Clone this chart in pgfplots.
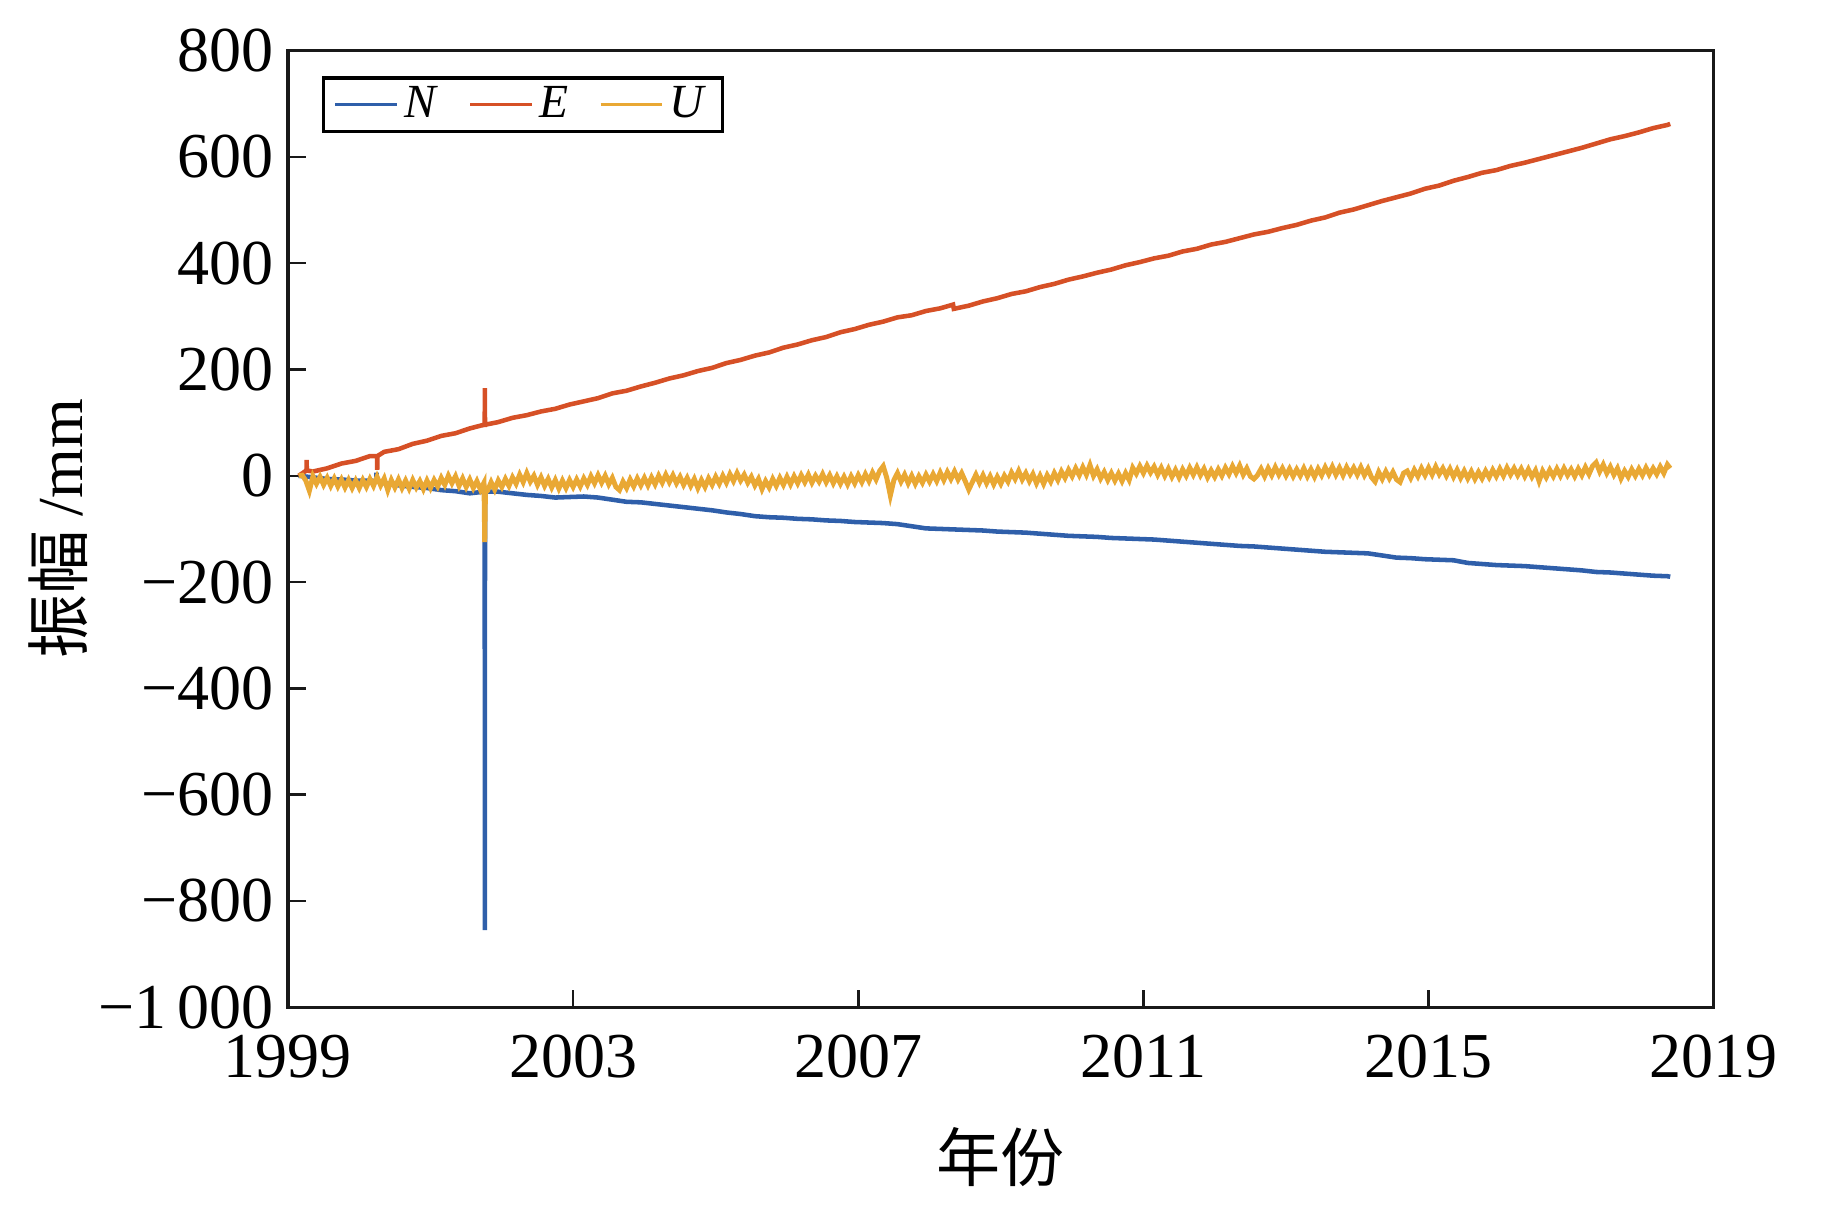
\documentclass[border=0pt]{standalone}
\usepackage{fontspec}
\setmainfont{Liberation Serif}
\newfontfamily\cjk{Noto Sans CJK SC}
\usepackage{pgfplots}
\pgfplotsset{compat=1.18}
\definecolor{cN}{RGB}{47,95,170}
\definecolor{cE}{RGB}{214,80,38}
\definecolor{cU}{RGB}{233,168,52}
\begin{document}
\begin{tikzpicture}
\begin{axis}[name=ax,
  scale only axis, width=121.3mm, height=81.4mm,
  xmin=1999, xmax=2019, ymin=-1000, ymax=800,
  axis line style={line width=0.8pt, black!90},
  xtick={1999,2003,2007,2011,2015,2019},
  xticklabels={1999,2003,2007,2011,2015,2019},
  ytick={-1000,-800,-600,-400,-200,0,200,400,600,800},
  yticklabels={−1\,000,−800,−600,−400,−200,0,200,400,600,800},
  tick align=inside, xtick pos=bottom, ytick pos=left,
  major tick length=1.5mm,
  every tick/.style={black!90, line width=0.6pt},
  tick label style={font=\fontsize{15.5}{18}\selectfont},
  xticklabel style={yshift=-1.1mm},
  xlabel={\cjk 年份}, ylabel={\cjk 振幅\ \rmfamily/mm},
  label style={font=\fontsize{15.5}{18}\selectfont},
  xlabel style={at={(axis description cs:0.5,-0.157)}, anchor=center},
  ylabel style={at={(axis description cs:-0.1608,0.5)}, anchor=center},
  legend columns=3,
  legend style={at={(axis description cs:0.0239,0.973)}, anchor=north west,
    draw=black, line width=0.8pt, font=\fontsize{11.5}{13}\selectfont,
    inner xsep=2.5pt, inner ysep=0.5pt, nodes={inner sep=1.5pt},
    /tikz/every even column/.append style={column sep=2.1mm}},
  legend image code/.code={\draw[#1, line width=0.7pt] (0mm,0mm) -- (5.2mm,0mm);},
]
% N
\addplot[cN, line width=1.1pt] coordinates {
(1999.15,0)(1999.35,-3)(1999.55,-6)(1999.75,-7)(1999.95,-9)(2000.15,-9)
(2000.24,-10)(2000.242,6)(2000.244,-10)
(2000.35,-14)(2000.55,-18)(2000.75,-21)(2000.95,-23)(2001.15,-27)(2001.35,-29)(2001.55,-33)(2001.75,-30)
(2001.76,-30)(2001.762,-855)(2001.764,-30)
(2001.95,-30)(2002.15,-33)(2002.35,-36)(2002.55,-38)(2002.75,-41)(2002.95,-40)(2003.15,-39)(2003.35,-41)
(2003.55,-45)(2003.75,-49)(2003.95,-50)(2004.15,-53)(2004.35,-56)(2004.55,-59)(2004.75,-62)(2004.95,-65)
(2005.15,-69)(2005.35,-72)(2005.55,-76)(2005.75,-78)(2005.95,-79)(2006.15,-81)(2006.35,-82)(2006.55,-84)
(2006.75,-85)(2006.95,-87)(2007.15,-88)(2007.35,-89)(2007.55,-91)(2007.75,-95)(2007.95,-99)(2008.15,-100)
(2008.35,-101)(2008.55,-102)(2008.75,-103)(2008.95,-105)(2009.15,-106)(2009.35,-107)(2009.55,-109)(2009.75,-111)
(2009.95,-113)(2010.15,-114)(2010.35,-115)(2010.55,-117)(2010.75,-118)(2010.95,-119)(2011.15,-120)(2011.35,-122)
(2011.55,-124)(2011.75,-126)(2011.95,-128)(2012.15,-130)(2012.35,-132)(2012.55,-133)(2012.75,-135)(2012.95,-137)
(2013.15,-139)(2013.35,-141)(2013.55,-143)(2013.75,-144)(2013.95,-145)(2014.15,-146)(2014.35,-150)(2014.55,-154)
(2014.75,-155)(2014.95,-157)(2015.15,-158)(2015.35,-159)(2015.55,-164)(2015.75,-166)(2015.95,-168)(2016.15,-169)
(2016.35,-170)(2016.55,-172)(2016.75,-174)(2016.95,-176)(2017.15,-178)(2017.35,-181)(2017.55,-182)(2017.75,-184)
(2017.95,-186)(2018.15,-188)(2018.35,-189)(2018.39,-190)
};
\addlegendentry{\textit{N}}
% E
\addplot[cE, line width=1.1pt] coordinates {
(1999.15,0)(1999.26,10)(1999.262,30)(1999.264,10)(1999.35,8)(1999.55,14)(1999.75,23)(1999.95,28)(2000.15,37)
(2000.25,37)(2000.252,11)(2000.254,37)
(2000.35,45)(2000.55,50)(2000.75,60)(2000.95,66)(2001.15,75)(2001.35,80)(2001.55,89)(2001.75,96)
(2001.76,96)(2001.762,165)(2001.764,96)
(2001.95,101)(2002.15,109)(2002.35,114)(2002.55,121)(2002.75,126)(2002.95,134)(2003.15,140)(2003.35,146)
(2003.55,155)(2003.75,160)(2003.95,168)(2004.15,175)(2004.35,183)(2004.55,189)(2004.75,197)(2004.95,203)
(2005.15,212)(2005.35,218)(2005.55,226)(2005.75,232)(2005.95,241)(2006.15,247)(2006.35,255)(2006.55,261)
(2006.75,270)(2006.95,276)(2007.15,284)(2007.35,290)(2007.55,298)(2007.75,302)(2007.95,310)(2008.15,315)
(2008.33,322)(2008.34,314)(2008.55,320)(2008.75,328)(2008.95,334)(2009.15,342)(2009.35,347)(2009.55,355)
(2009.75,361)(2009.95,369)(2010.15,375)(2010.35,382)(2010.55,388)(2010.75,396)(2010.95,402)(2011.15,409)
(2011.35,414)(2011.55,422)(2011.75,427)(2011.95,435)(2012.15,440)(2012.35,447)(2012.55,454)(2012.75,459)
(2012.95,466)(2013.15,472)(2013.35,480)(2013.55,486)(2013.75,495)(2013.95,501)(2014.15,509)(2014.35,517)
(2014.55,524)(2014.75,531)(2014.95,540)(2015.15,546)(2015.35,555)(2015.55,562)(2015.75,570)(2015.95,575)
(2016.15,583)(2016.35,589)(2016.55,596)(2016.75,603)(2016.95,610)(2017.15,617)(2017.35,625)(2017.55,633)
(2017.75,639)(2017.95,646)(2018.15,654)(2018.35,660)(2018.39,662)
};
\addlegendentry{\textit{E}}
% U
\addplot[cU, line width=1.2pt] coordinates {
(1999.15,0)(1999.20,1)(1999.25,-9)(1999.30,-28)(1999.35,-1)(1999.40,-15)(1999.45,-2)(1999.50,-17)(1999.55,-4)(1999.60,-19)
(1999.65,-5)(1999.70,-20)(1999.75,-7)(1999.80,-22)(1999.85,-8)(1999.90,-23)(1999.95,-9)
(2000.00,-23)(2000.05,-8)(2000.10,-21)(2000.15,-6)(2000.20,-19)(2000.25,-2)(2000.30,-18)(2000.35,-5)(2000.40,-27)(2000.45,-8)
(2000.50,-22)(2000.55,-7)(2000.60,-23)(2000.65,-9)(2000.70,-24)(2000.75,-8)(2000.80,-22)(2000.85,-10)(2000.90,-25)(2000.95,-9)
(2001.00,-23)(2001.05,-8)(2001.10,-20)(2001.15,-4)(2001.20,-17)(2001.25,0)(2001.30,-14)(2001.35,-1)(2001.40,-19)(2001.45,-5)
(2001.50,-21)(2001.55,-7)(2001.60,-23)(2001.65,-10)(2001.70,-26)(2001.75,-13)(2001.76,-125)(2001.77,-32)(2001.80,-28)(2001.85,-12)(2001.90,-26)(2001.95,-9)
(2002.00,-21)(2002.05,-6)(2002.10,-19)(2002.15,-3)(2002.20,-15)(2002.25,2)(2002.30,-12)(2002.35,5)(2002.40,-11)(2002.45,0)
(2002.50,-17)(2002.55,-3)(2002.60,-19)(2002.65,-6)(2002.70,-22)(2002.75,-8)(2002.80,-24)(2002.85,-9)(2002.90,-23)(2002.95,-8)
(2003.00,-21)(2003.05,-7)(2003.10,-20)(2003.15,-5)(2003.20,-17)(2003.25,-1)(2003.30,-14)(2003.35,1)(2003.40,-13)(2003.45,0)
(2003.50,-16)(2003.55,-4)(2003.60,-21)(2003.65,-27)(2003.70,-11)(2003.75,-23)(2003.80,-7)(2003.85,-20)(2003.90,-5)(2003.95,-18)
(2004.00,-4)(2004.05,-18)(2004.10,-3)(2004.15,-16)(2004.20,0)(2004.25,-13)(2004.30,2)(2004.35,-12)(2004.40,1)(2004.45,-14)
(2004.50,-2)(2004.55,-17)(2004.60,-4)(2004.65,-19)(2004.70,-6)(2004.75,-23)(2004.80,-8)(2004.85,-21)(2004.90,-5)(2004.95,-17)
(2005.00,-2)(2005.05,-15)(2005.10,0)(2005.15,-13)(2005.20,3)(2005.25,-10)(2005.30,5)(2005.35,-9)(2005.40,2)(2005.45,-13)
(2005.50,-2)(2005.55,-18)(2005.60,-6)(2005.65,-25)(2005.70,-10)(2005.75,-22)(2005.80,-6)(2005.85,-19)(2005.90,-4)(2005.95,-17)
(2006.00,-2)(2006.05,-16)(2006.10,-1)(2006.15,-14)(2006.20,1)(2006.25,-12)(2006.30,2)(2006.35,-13)(2006.40,0)(2006.45,-11)
(2006.50,3)(2006.55,-12)(2006.60,1)(2006.65,-14)(2006.70,-1)(2006.75,-15)(2006.80,-2)(2006.85,-16)(2006.90,-1)(2006.95,-14)
(2007.00,1)(2007.05,-12)(2007.10,3)(2007.15,-10)(2007.20,6)(2007.25,-7)(2007.30,9)(2007.35,18)(2007.40,-4)(2007.45,-37)
(2007.50,-8)(2007.55,5)(2007.60,-11)(2007.65,2)(2007.70,-14)(2007.75,0)(2007.80,-15)(2007.85,-1)(2007.90,-13)(2007.95,2)
(2008.00,-11)(2008.05,3)(2008.10,-10)(2008.15,6)(2008.20,-8)(2008.25,7)(2008.30,-6)(2008.35,8)(2008.40,-7)(2008.45,5)
(2008.50,-10)(2008.55,-26)(2008.60,-12)(2008.65,2)(2008.70,-13)(2008.75,1)(2008.80,-14)(2008.85,-1)(2008.90,-16)(2008.95,-2)
(2009.00,-15)(2009.05,0)(2009.10,-11)(2009.15,6)(2009.20,-6)(2009.25,9)(2009.30,-7)(2009.35,5)(2009.40,-10)(2009.45,3)
(2009.50,-14)(2009.55,0)(2009.60,-15)(2009.65,1)(2009.70,-11)(2009.75,5)(2009.80,-8)(2009.85,8)(2009.90,-4)(2009.95,11)
(2010.00,-1)(2010.05,14)(2010.10,1)(2010.15,16)(2010.20,2)(2010.25,20)(2010.30,0)(2010.35,12)(2010.40,-5)(2010.45,7)
(2010.50,-8)(2010.55,5)(2010.60,-9)(2010.65,4)(2010.70,-10)(2010.75,5)(2010.80,-8)(2010.85,15)(2010.90,4)(2010.95,18)
(2011.00,5)(2011.05,19)(2011.10,6)(2011.15,17)(2011.20,2)(2011.25,15)(2011.30,0)(2011.35,13)(2011.40,-2)(2011.45,11)
(2011.50,-3)(2011.55,12)(2011.60,0)(2011.65,15)(2011.70,2)(2011.75,16)(2011.80,1)(2011.85,13)(2011.90,-3)(2011.95,10)
(2012.00,-2)(2012.05,12)(2012.10,0)(2012.15,15)(2012.20,3)(2012.25,18)(2012.30,5)(2012.35,19)(2012.40,2)(2012.45,14)
(2012.50,-1)(2012.55,-6)(2012.60,1)(2012.65,13)(2012.70,-1)(2012.75,14)(2012.80,1)(2012.85,16)(2012.90,2)(2012.95,14)
(2013.00,0)(2013.05,13)(2013.10,-1)(2013.15,12)(2013.20,0)(2013.25,14)(2013.30,-1)(2013.35,12)(2013.40,-2)(2013.45,13)
(2013.50,1)(2013.55,16)(2013.60,3)(2013.65,17)(2013.70,2)(2013.75,15)(2013.80,1)(2013.85,16)(2013.90,3)(2013.95,15)
(2014.00,2)(2014.05,16)(2014.10,1)(2014.15,13)(2014.20,-3)(2014.25,-11)(2014.30,7)(2014.35,-6)(2014.40,8)(2014.45,-5)
(2014.50,7)(2014.55,-7)(2014.60,-12)(2014.65,5)(2014.70,9)(2014.75,-4)(2014.80,11)(2014.85,-1)(2014.90,14)(2014.95,1)
(2015.00,15)(2015.05,2)(2015.10,17)(2015.15,3)(2015.20,14)(2015.25,0)(2015.30,13)(2015.35,-2)(2015.40,11)(2015.45,-4)
(2015.50,9)(2015.55,-5)(2015.60,8)(2015.65,-6)(2015.70,7)(2015.75,-5)(2015.80,9)(2015.85,-3)(2015.90,11)(2015.95,-1)
(2016.00,13)(2016.05,0)(2016.10,15)(2016.15,2)(2016.20,14)(2016.25,1)(2016.30,13)(2016.35,-1)(2016.40,12)(2016.45,-2)
(2016.50,10)(2016.55,-10)(2016.60,9)(2016.65,-3)(2016.70,11)(2016.75,-1)(2016.80,13)(2016.85,0)(2016.90,14)(2016.95,1)
(2017.00,12)(2017.05,-1)(2017.10,13)(2017.15,1)(2017.20,16)(2017.25,3)(2017.30,18)(2017.35,25)(2017.40,8)(2017.45,21)
(2017.50,5)(2017.55,17)(2017.60,2)(2017.65,14)(2017.70,-5)(2017.75,9)(2017.80,-2)(2017.85,12)(2017.90,0)(2017.95,13)
(2018.00,1)(2018.05,15)(2018.10,2)(2018.15,14)(2018.20,3)(2018.25,17)(2018.30,5)(2018.35,21)(2018.39,14)
};
\addlegendentry{\textit{U}}
\end{axis}
\path ([shift={(-24.5mm,-16.8mm)}]ax.south west) rectangle ([shift={(11mm,4.3mm)}]ax.north east);
\end{tikzpicture}
\end{document}
